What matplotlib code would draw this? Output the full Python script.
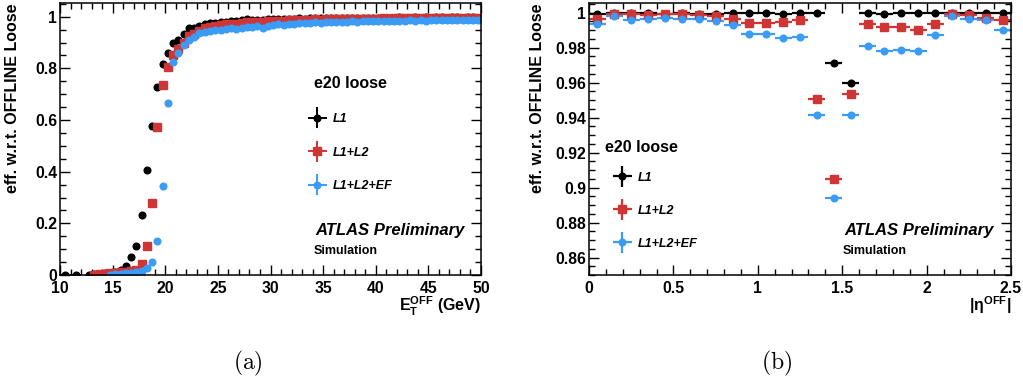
import numpy as np
import matplotlib
matplotlib.use('Agg')
import matplotlib.pyplot as plt
from matplotlib.ticker import MultipleLocator, FuncFormatter
from matplotlib.legend_handler import HandlerErrorbar
from matplotlib.container import ErrorbarContainer

plt.rcParams['font.family'] = ['Liberation Sans', 'DejaVu Sans']
plt.rcParams['font.weight'] = 'bold'
plt.rcParams['mathtext.fontset'] = 'custom'
plt.rcParams['mathtext.rm'] = 'Liberation Sans:bold'
plt.rcParams['mathtext.it'] = 'Liberation Sans:bold'
plt.rcParams['mathtext.bf'] = 'Liberation Sans:bold'
plt.rcParams['mathtext.default'] = 'rm'

# ---- (a) efficiency vs E_T^OFF ----
et_low = [10.5, 11.5, 12.75]
et_low_half = [0.5, 0.5, 0.25]
eff_low_l1 = [0.0, 0.0, 0.0]

et_bins = [13.25, 13.75, 14.25, 14.75, 15.25, 15.75, 16.25, 16.75, 17.25, 17.75,
           18.25, 18.75, 19.25, 19.75, 20.25, 20.75, 21.25, 21.75, 22.25, 22.75,
           23.25, 23.75, 24.25, 24.75, 25.25, 25.75, 26.25, 26.75, 27.25, 27.75,
           28.25, 28.75, 29.25, 29.75, 30.25, 30.75, 31.25, 31.75, 32.25, 32.75,
           33.25, 33.75, 34.25, 34.75, 35.25, 35.75, 36.25, 36.75, 37.25, 37.75,
           38.25, 38.75, 39.25, 39.75, 40.25, 40.75, 41.25, 41.75, 42.25, 42.75,
           43.25, 43.75, 44.25, 44.75, 45.25, 45.75, 46.25, 46.75, 47.25, 47.75,
           48.25, 48.75, 49.25, 49.75]

eff_et_l1 = [0.002, 0.004, 0.006, 0.009, 0.012, 0.018, 0.034, 0.068, 0.114, 0.232,
             0.406, 0.577, 0.729, 0.817, 0.859, 0.900, 0.910, 0.933, 0.955, 0.956,
             0.965, 0.972, 0.976, 0.975, 0.978, 0.981, 0.983, 0.982, 0.986, 0.990,
             0.987, 0.988, 0.986, 0.990, 0.991, 0.992, 0.991, 0.993, 0.992, 0.994,
             0.993, 0.994, 0.995, 0.994, 0.995, 0.996, 0.995, 0.996, 0.995, 0.997,
             0.996, 0.996, 0.997, 0.996, 0.997, 0.997, 0.996, 0.997, 0.998, 0.997,
             0.997, 0.998, 0.997, 0.998, 0.997, 0.998, 0.998, 0.997, 0.998, 0.998,
             0.997, 0.998, 0.998, 0.997]

eff_et_l2 = [0.001, 0.002, 0.004, 0.006, 0.008, 0.010, 0.012, 0.015, 0.020, 0.043,
             0.114, 0.277, 0.572, 0.737, 0.806, 0.852, 0.875, 0.900, 0.926, 0.933,
             0.945, 0.955, 0.962, 0.965, 0.968, 0.970, 0.972, 0.971, 0.976, 0.979,
             0.978, 0.980, 0.979, 0.983, 0.984, 0.985, 0.984, 0.987, 0.986, 0.988,
             0.988, 0.989, 0.990, 0.989, 0.990, 0.991, 0.990, 0.991, 0.992, 0.992,
             0.993, 0.992, 0.993, 0.992, 0.993, 0.994, 0.993, 0.994, 0.994, 0.995,
             0.994, 0.995, 0.995, 0.994, 0.995, 0.995, 0.996, 0.995, 0.995, 0.996,
             0.995, 0.996, 0.995, 0.996]

eff_et_ef = [np.nan, np.nan, np.nan, 0.001, 0.002, 0.004, 0.006, 0.008, 0.010, 0.014,
             0.026, 0.049, 0.133, 0.346, 0.666, 0.823, 0.859, 0.890, 0.911, 0.923,
             0.937, 0.940, 0.945, 0.948, 0.950, 0.953, 0.955, 0.954, 0.958, 0.962,
             0.960, 0.963, 0.958, 0.966, 0.968, 0.970, 0.969, 0.973, 0.972, 0.975,
             0.974, 0.976, 0.978, 0.977, 0.978, 0.980, 0.979, 0.980, 0.981, 0.982,
             0.981, 0.983, 0.982, 0.983, 0.984, 0.983, 0.984, 0.985, 0.984, 0.985,
             0.986, 0.985, 0.986, 0.985, 0.986, 0.987, 0.986, 0.987, 0.986, 0.987,
             0.986, 0.987, 0.986, 0.987]

# ---- (b) efficiency vs |eta^OFF| ----
eta_bins = [0.05, 0.15, 0.25, 0.35, 0.45, 0.55, 0.65, 0.75, 0.85, 0.95,
            1.05, 1.15, 1.25, 1.35, 1.45, 1.55, 1.65, 1.75, 1.85, 1.95,
            2.05, 2.15, 2.25, 2.35, 2.45]

eff_eta_l1 = [0.9995, 0.9998, 0.9996, 0.9997, 0.9995, 0.9998, 0.9995, 0.9993, 0.9997, 0.9996,
              0.9996, 0.9992, 0.9996, 0.9996, 0.9710, 0.9600, 0.9996, 0.9993, 0.9996, 0.9997,
              0.9998, 0.9997, 0.9998, 0.9999, 0.9997]

eff_eta_l2 = [0.9966, 0.9994, 0.9990, 0.9989, 0.9990, 0.9993, 0.9987, 0.9980, 0.9966, 0.9941,
              0.9941, 0.9945, 0.9956, 0.9506, 0.9047, 0.9536, 0.9937, 0.9918, 0.9920, 0.9903,
              0.9937, 0.9990, 0.9985, 0.9972, 0.9956]

eff_eta_ef = [0.9937, 0.9980, 0.9960, 0.9962, 0.9968, 0.9962, 0.9966, 0.9950, 0.9928, 0.9877,
              0.9877, 0.9856, 0.9861, 0.9417, 0.8940, 0.9417, 0.9809, 0.9782, 0.9788, 0.9780,
              0.9873, 0.9979, 0.9966, 0.9960, 0.9903]

labels = ['L1', 'L1+L2', 'L1+L2+EF']
colors = ['black', '#d03535', '#3a9cf5']
markers = ['o', 's', 'o']
sizes = [4.8, 5.2, 4.8]

fig = plt.figure(figsize=(10.23, 3.83), dpi=100)
ax1 = fig.add_axes([0.0587, 0.282, 0.4115, 0.710])
ax2 = fig.add_axes([0.5758, 0.282, 0.4125, 0.710])

# legend keys drawn as a cross like ROOT does
err_handler = {ErrorbarContainer: HandlerErrorbar(xerr_size=0.75, yerr_size=0.85)}


def style_axis(ax):
    ax.tick_params(which='both', direction='in', top=True, right=True,
                   labelsize=11.3, width=1.0, colors='black')
    ax.tick_params(which='major', length=7, pad=4)
    ax.tick_params(which='minor', length=4)
    ax.tick_params(axis='y', which='major', pad=2)
    for s in ax.spines.values():
        s.set_linewidth(1.1)
    for lab in ax.get_xticklabels() + ax.get_yticklabels():
        lab.set_fontweight('bold')
    ax.yaxis.set_major_formatter(FuncFormatter(lambda v, p: '%g' % round(v, 4)))
    ax.xaxis.set_major_formatter(FuncFormatter(lambda v, p: '%g' % round(v, 4)))


# left panel
ax1.errorbar(et_low, eff_low_l1, xerr=et_low_half, fmt='o', color='black',
             ms=sizes[0], elinewidth=1.2, capsize=0)
et_series = [eff_et_l1, eff_et_l2, eff_et_ef]
for vals, lab, c, m, s in zip(et_series, labels, colors, markers, sizes):
    ax1.errorbar(et_bins, vals, xerr=0.25, yerr=0.002, fmt=m, color=c, ms=s,
                 elinewidth=1.4, capsize=0, label=lab)
ax1.set_xlim(10, 50)
ax1.set_ylim(0, 1.053)
ax1.xaxis.set_major_locator(MultipleLocator(5))
ax1.xaxis.set_minor_locator(MultipleLocator(1))
ax1.yaxis.set_major_locator(MultipleLocator(0.2))
ax1.yaxis.set_minor_locator(MultipleLocator(0.05))
style_axis(ax1)
ax1.set_ylabel('eff. w.r.t. OFFLINE Loose', fontsize=11.5, fontweight='bold', loc='top')
ax1.yaxis.set_label_coords(-0.095, 1.0)
ax1.set_xlabel(r'$\mathrm{E}_{\mathrm{T}}^{\mathrm{OFF}}$ (GeV)', fontsize=11.5,
               fontweight='bold', loc='right')
ax1.xaxis.set_label_coords(1.0, -0.072)
ax1.xaxis.label.set_va('top')

ax1.text(0.603, 0.706, 'e20 loose', transform=ax1.transAxes, fontsize=11.5,
         fontweight='bold', va='center', ha='left')
ax1.legend(loc='upper left', bbox_to_anchor=(0.589, 0.595), frameon=False,
           prop={'size': 9, 'weight': 'bold', 'style': 'italic'},
           handlelength=1.5, handletextpad=0.45, labelspacing=1.72,
           borderpad=0, borderaxespad=0, handler_map=err_handler)
ax1.text(0.606, 0.162, 'ATLAS Preliminary', transform=ax1.transAxes, fontsize=12,
         fontweight='bold', fontstyle='italic', va='center', ha='left')
ax1.text(0.603, 0.088, 'Simulation', transform=ax1.transAxes, fontsize=9,
         fontweight='bold', va='center', ha='left')

# right panel
eta_series = [eff_eta_l1, eff_eta_l2, eff_eta_ef]
eta_yerr = [0.0003, 0.0006, 0.0008]
for vals, lab, c, m, s, ye in zip(eta_series, labels, colors, markers, sizes, eta_yerr):
    ax2.errorbar(eta_bins, vals, xerr=0.05, yerr=ye, fmt=m, color=c, ms=s,
                 elinewidth=1.6, capsize=0, label=lab)
ax2.set_xlim(0, 2.5)
ax2.set_ylim(0.85, 1.0055)
ax2.xaxis.set_major_locator(MultipleLocator(0.5))
ax2.xaxis.set_minor_locator(MultipleLocator(0.1))
ax2.yaxis.set_major_locator(MultipleLocator(0.02))
ax2.yaxis.set_minor_locator(MultipleLocator(0.005))
style_axis(ax2)
ax2.set_ylabel('eff. w.r.t. OFFLINE Loose', fontsize=11.5, fontweight='bold', loc='top')
ax2.yaxis.set_label_coords(-0.104, 1.0)
ax2.set_xlabel(r'$|\eta^{\mathrm{OFF}}|$', fontsize=11.5, loc='right')
ax2.xaxis.set_label_coords(1.0, -0.072)
ax2.xaxis.label.set_va('top')

ax2.text(0.038, 0.47, 'e20 loose', transform=ax2.transAxes, fontsize=11.5,
         fontweight='bold', va='center', ha='left')
ax2.legend(loc='upper left', bbox_to_anchor=(0.057, 0.38), frameon=False,
           prop={'size': 9, 'weight': 'bold', 'style': 'italic'},
           handlelength=1.5, handletextpad=0.45, labelspacing=1.68,
           borderpad=0, borderaxespad=0, handler_map=err_handler)
ax2.text(0.604, 0.162, 'ATLAS Preliminary', transform=ax2.transAxes, fontsize=12,
         fontweight='bold', fontstyle='italic', va='center', ha='left')
ax2.text(0.602, 0.088, 'Simulation', transform=ax2.transAxes, fontsize=9,
         fontweight='bold', va='center', ha='left')

# sub-captions
fig.text(248 / 1023, 1 - 363 / 383, r'$\mathrm{(a)}$', math_fontfamily='cm',
         fontsize=17, ha='center', va='center')
fig.text(777 / 1023, 1 - 363 / 383, r'$\mathrm{(b)}$', math_fontfamily='cm',
         fontsize=17, ha='center', va='center')

fig.savefig('out.png', dpi=100)
